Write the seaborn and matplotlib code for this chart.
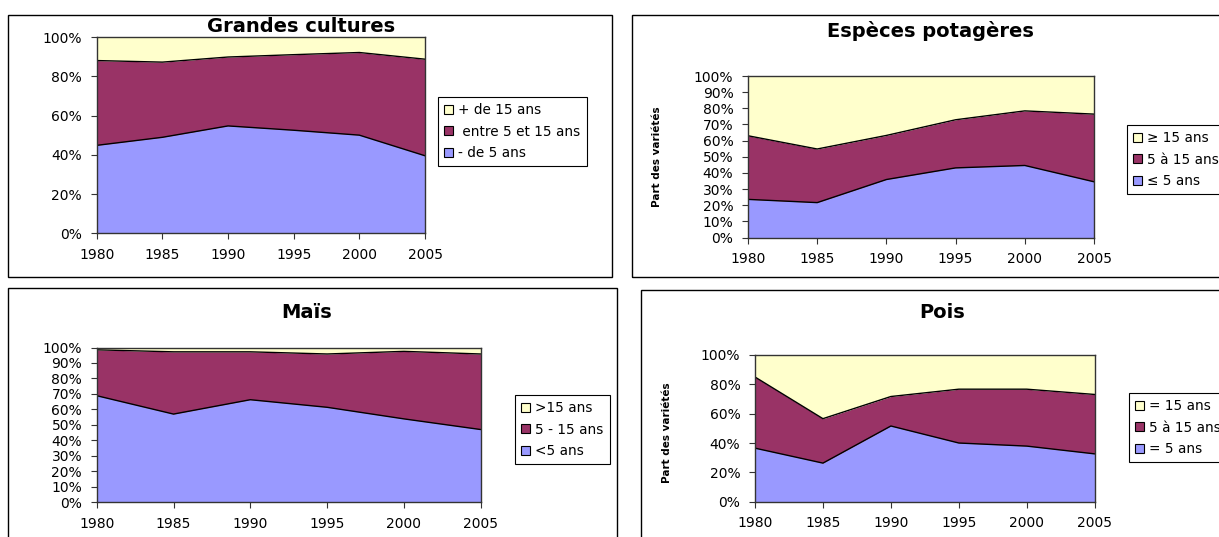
import matplotlib
matplotlib.use("Agg")
from matplotlib import pyplot as plt
from matplotlib.patches import Patch, Rectangle
from matplotlib.ticker import FuncFormatter, MultipleLocator
import numpy as np
import pandas as pd
import seaborn as sns

W, H = 1219, 537

years = [1980, 1985, 1990, 1995, 2000, 2005]

# Grandes cultures (% of varieties by age)
gc_moins5 = [44.8, 48.9, 54.7, 52.5, 50.0, 39.5]
gc_5_15 = [43.2, 38.3, 35.1, 38.5, 42.1, 49.2]
gc_plus15 = [12.0, 12.8, 10.2, 9.0, 7.9, 11.3]
gc_labels = ["+ de 15 ans", " entre 5 et 15 ans", "- de 5 ans"]

# Especes potageres
ep_moins5 = [23.6, 21.6, 35.9, 43.1, 44.6, 34.5]
ep_5_15 = [39.4, 33.2, 27.3, 29.8, 33.8, 41.9]
ep_plus15 = [37.0, 45.2, 36.8, 27.1, 21.6, 23.6]
ep_labels = ["\u2265 15 ans", "5 \u00e0 15 ans", "\u2264 5 ans"]

# Mais
ma_moins5 = [68.8, 56.9, 66.2, 61.3, 53.8, 46.9]
ma_5_15 = [29.7, 40.3, 31.0, 34.5, 43.7, 48.9]
ma_plus15 = [1.5, 2.8, 2.8, 4.2, 2.5, 4.2]
ma_labels = [">15 ans", "5 - 15 ans", "<5 ans"]

# Pois
po_moins5 = [36.5, 26.3, 51.6, 40.0, 37.9, 32.6]
po_5_15 = [48.5, 30.3, 20.1, 36.7, 38.8, 40.5]
po_plus15 = [15.0, 43.4, 28.3, 23.3, 23.3, 26.9]
po_labels = ["= 15 ans", "5 \u00e0 15 ans", "= 5 ans"]

colors = ["#9999FF", "#993366", "#FFFFCC"]  # bottom -> top

sns.set_style("white")
plt.rcParams['font.family'] = ['DejaVu Sans']
plt.rcParams['text.color'] = 'black'
plt.rcParams['xtick.color'] = 'black'
plt.rcParams['ytick.color'] = 'black'
plt.rcParams['axes.labelcolor'] = 'black'

fig = plt.figure(figsize=(W / 100, H / 100), dpi=100)
fig.patch.set_facecolor("white")


def px_axes(left, top, right, bottom):
    return fig.add_axes([left / W, 1 - bottom / H, (right - left) / W, (bottom - top) / H])


def frame(left, top, right, bottom):
    fig.add_artist(Rectangle((left / W, 1 - bottom / H), (right - left) / W, (bottom - top) / H,
                             transform=fig.transFigure, fill=False, ec="black", lw=1.0))


def area_panel(ax, low, mid, high, labels, step, leg_xy, ylabel=None):
    df = pd.DataFrame({"annee": years, "low": low, "mid": mid, "high": high})
    df["cum1"] = df["low"]
    df["cum2"] = df["low"] + df["mid"]
    ax.stackplot(df["annee"], df["low"], df["mid"], df["high"], colors=colors, lw=0)
    for col in ["cum1", "cum2"]:
        sns.lineplot(data=df, x="annee", y=col, ax=ax, color="black", lw=1.0, legend=False)
    ax.set_xlim(1980, 2005)
    ax.set_ylim(0, 100)
    ax.set_xticks(years)
    ax.yaxis.set_major_locator(MultipleLocator(step))
    ax.yaxis.set_major_formatter(FuncFormatter(lambda v, p: "{:d}%".format(int(round(v)))))
    ax.tick_params(axis="both", direction="out", length=4.5, width=0.8, color="#333333",
                   labelsize=10, labelcolor="black", pad=6, left=True, bottom=True)
    for s in ax.spines.values():
        s.set_color("#333333")
        s.set_linewidth(1.0)
    ax.set_xlabel("")
    ax.set_ylabel("")
    handles = [Patch(facecolor=c, edgecolor="black", lw=0.8) for c in colors[::-1]]
    ax.legend(handles, labels, loc="upper left", bbox_to_anchor=(leg_xy[0] / W, 1 - leg_xy[1] / H),
              bbox_transform=fig.transFigure, fontsize=9.8, frameon=True, fancybox=False,
              framealpha=1, edgecolor="black", handlelength=0.65, handleheight=0.65,
              handletextpad=0.4, borderpad=0.45, labelspacing=0.55, borderaxespad=0)
    ax.get_legend().get_frame().set_linewidth(0.8)
    if ylabel:
        fig.text(ylabel[0] / W, 1 - ylabel[1] / H, "Part des vari\u00e9t\u00e9s", rotation=90,
                 ha="center", va="center", fontsize=7.5, fontweight="bold")


# panel frames
frame(8, 15, 612, 277)
frame(632, 15, 1240, 277)
frame(8, 288, 617, 560)
frame(641, 290, 1240, 560)

ax1 = px_axes(96.7, 37, 425, 233.3)
area_panel(ax1, gc_moins5, gc_5_15, gc_plus15, gc_labels, 20, (438, 97))
fig.text(301 / W, 1 - 27 / H, "Grandes cultures", ha="center", va="center",
         fontsize=14, fontweight="bold")

ax2 = px_axes(748, 76, 1094, 237.5)
area_panel(ax2, ep_moins5, ep_5_15, ep_plus15, ep_labels, 10, (1127, 125), ylabel=(657, 157))
fig.text(930 / W, 1 - 31 / H, "Esp\u00e8ces potag\u00e8res", ha="center", va="center",
         fontsize=14, fontweight="bold")

ax3 = px_axes(96.7, 347.5, 480.7, 502)
area_panel(ax3, ma_moins5, ma_5_15, ma_plus15, ma_labels, 10, (515, 395))
fig.text(307 / W, 1 - 312 / H, "Ma\u00efs", ha="center", va="center",
         fontsize=14, fontweight="bold")

ax4 = px_axes(755, 355, 1094.7, 501.7)
area_panel(ax4, po_moins5, po_5_15, po_plus15, po_labels, 20, (1129, 393), ylabel=(667, 433))
fig.text(942 / W, 1 - 312 / H, "Pois", ha="center", va="center",
         fontsize=14, fontweight="bold")

fig.savefig("out.png", dpi=100, facecolor="white")
